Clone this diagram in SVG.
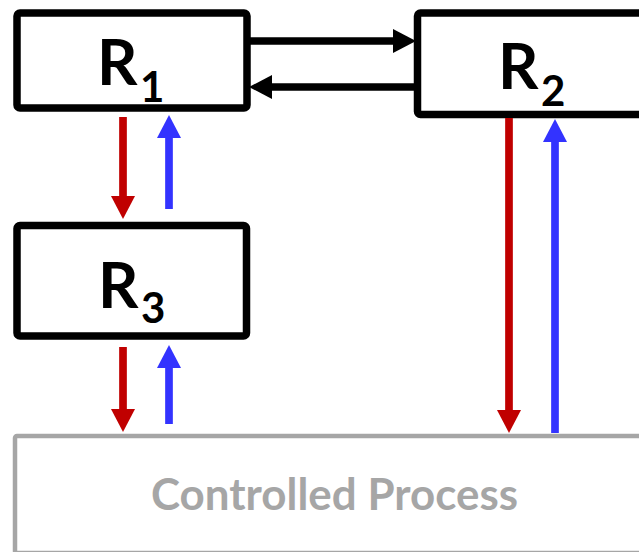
<svg xmlns="http://www.w3.org/2000/svg" width="639" height="552" viewBox="0 0 639 552">
<style>
.box{fill:#fff;stroke:#000;stroke-width:7.5;stroke-linejoin:round}
.cp{fill:#fff;stroke:#a6a6a6;stroke-width:4.5;stroke-linejoin:round}
.lbl{font-family:Lato,"Open Sans","Liberation Sans",sans-serif;font-weight:bold;fill:#000}
.big{font-size:63px}
.sub{font-size:42px}
.cpt{font-family:Lato,"Open Sans","Liberation Sans",sans-serif;font-weight:bold;font-size:43px;fill:#a6a6a6}
.k{stroke:#000;stroke-width:7.5;fill:none}
.r{stroke:#c00000;stroke-width:7.7;fill:none}
.b{stroke:#3333ff;stroke-width:7.7;fill:none}
</style>
<defs>
<marker id="hk" markerUnits="userSpaceOnUse" markerWidth="23" markerHeight="24" refX="0" refY="12" orient="auto" viewBox="0 0 23 24"><path d="M0,0 L23,12 L0,24 z" fill="#000"/></marker>
<marker id="hr" markerUnits="userSpaceOnUse" markerWidth="23" markerHeight="24" refX="0" refY="12" orient="auto" viewBox="0 0 23 24"><path d="M0,0 L23,12 L0,24 z" fill="#c00000"/></marker>
<marker id="hb" markerUnits="userSpaceOnUse" markerWidth="23" markerHeight="24" refX="0" refY="12" orient="auto" viewBox="0 0 23 24"><path d="M0,0 L23,12 L0,24 z" fill="#3333ff"/></marker>
</defs>
<g id="cp">
<rect class="cp" x="15" y="436" width="660" height="117" rx="2"/>
<text class="cpt" x="151" y="510" textLength="367" lengthAdjust="spacingAndGlyphs">Controlled Process</text>
</g>
<g id="r1">
<rect class="box" x="17" y="13" width="230" height="95" rx="3"/>
<text class="lbl big" x="97" y="85">R</text><text class="lbl sub" x="140" y="101.7">1</text>
</g>
<g id="r2">
<rect class="box" x="417.5" y="13" width="260" height="101.5" rx="3"/>
<text class="lbl big" x="498" y="89">R</text><text class="lbl sub" x="541" y="106">2</text>
</g>
<g id="r3">
<rect class="box" x="17" y="225.5" width="229.5" height="110.5" rx="3"/>
<text class="lbl big" x="98" y="307.7">R</text><text class="lbl sub" x="141" y="323.3">3</text>
</g>
<g id="connectors">
<line class="k" x1="250" y1="41" x2="393" y2="41" marker-end="url(#hk)"/>
<line class="k" x1="414" y1="87" x2="272" y2="87" marker-end="url(#hk)"/>
<line class="r" x1="123" y1="117" x2="123" y2="196" marker-end="url(#hr)"/>
<line class="b" x1="169" y1="209" x2="169" y2="138" marker-end="url(#hb)"/>
<line class="r" x1="123" y1="347" x2="123" y2="409" marker-end="url(#hr)"/>
<line class="b" x1="169" y1="424" x2="169" y2="368" marker-end="url(#hb)"/>
<line class="r" x1="509" y1="118" x2="509" y2="410" marker-end="url(#hr)"/>
<line class="b" x1="555" y1="433" x2="555" y2="142" marker-end="url(#hb)"/>
</g>
</svg>
